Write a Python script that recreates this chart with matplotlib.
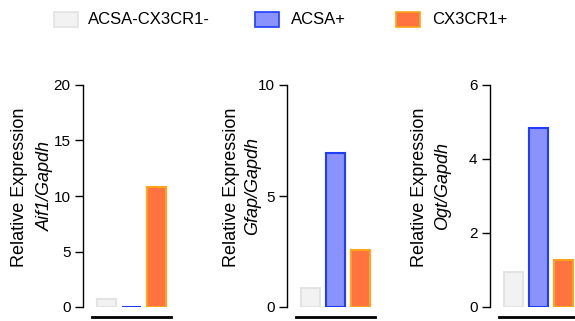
import matplotlib
matplotlib.use("Agg")
import matplotlib.pyplot as plt
from matplotlib.patches import Rectangle

plt.rcParams['font.family'] = ['Liberation Sans', 'DejaVu Sans']

groups = ["ACSA-CX3CR1-", "ACSA+", "CX3CR1+"]
genes = ["Aif1", "Gfap", "Ogt"]
values = {
    "Aif1": [0.72, 0.02, 10.85],
    "Gfap": [0.86, 6.92, 2.57],
    "Ogt": [0.95, 4.84, 1.27],
}
ymax = {"Aif1": 20, "Gfap": 10, "Ogt": 6}
yticks = {"Aif1": [0, 5, 10, 15, 20], "Gfap": [0, 5, 10], "Ogt": [0, 2, 4, 6]}

fills = ["#f2f2f2", "#8a93fb", "#ff7340"]
edges = ["#e3e3e3", "#1f3dff", "#ffa31a"]

W, H = 575, 321
fig = plt.figure(figsize=(W / 100, H / 100), dpi=100)

axis_x = [83, 287, 490]
label_x = [(20, 45), (232, 253), (420, 443)]
xl = (-0.94, 2.6)
ax_w = (xl[1] - xl[0]) * 25

for i, g in enumerate(genes):
    ax = fig.add_axes([axis_x[i] / W, (H - 307) / H, ax_w / W, 222 / H])
    ax.bar(range(3), values[g], width=0.74, color=fills, edgecolor=edges, linewidth=1.5)
    ax.set_xlim(*xl)
    ax.set_ylim(0, ymax[g])
    ax.set_yticks(yticks[g])
    ax.set_xticks([])
    for s in ["top", "right"]:
        ax.spines[s].set_visible(False)
    ax.spines["left"].set_linewidth(1.0)
    ax.spines["bottom"].set_position(("outward", 7.5))
    ax.spines["bottom"].set_bounds(-0.58, 2.58)
    ax.spines["bottom"].set_linewidth(2.0)
    ax.tick_params(axis="y", length=6, width=1.0, pad=3, labelsize=11)
    lx1, lx2 = label_x[i]
    fig.text(lx1 / W, 1 - 187 / H, "Relative Expression", rotation=90,
             ha="center", va="center", fontsize=13)
    fig.text(lx2 / W, 1 - 186 / H, f"{g}/Gapdh", rotation=90, style="italic",
             ha="center", va="center", fontsize=13)

# legend
patch_x = [54, 255, 396]
text_x = [88, 291, 432]
for j in range(3):
    fig.add_artist(Rectangle((patch_x[j] / W, 1 - 27 / H), 24 / W, 15 / H,
                             transform=fig.transFigure, facecolor=fills[j],
                             edgecolor=edges[j], linewidth=1.2))
    fig.text(text_x[j] / W, 1 - 19.5 / H, groups[j], ha="left", va="center", fontsize=12)

fig.savefig("out.png", dpi=100)
